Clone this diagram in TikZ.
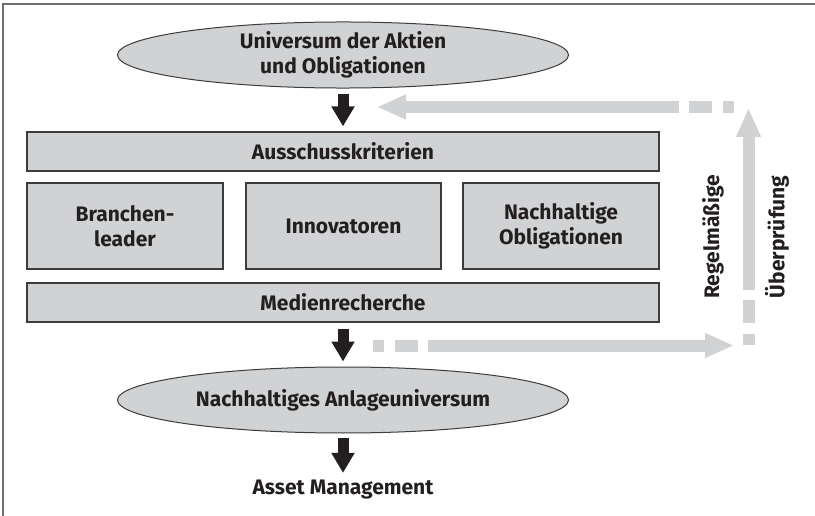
\documentclass[tikz,border=0pt]{standalone}
\usepackage{fontspec}
\setmainfont{Fira Sans}
\usepackage{tikz}
\usetikzlibrary{shapes.geometric, arrows.meta, positioning}
\definecolor{boxgray}{RGB}{209,210,212}
\definecolor{edgegray}{RGB}{60,60,60}
\definecolor{loopgray}{RGB}{209,210,212}
\definecolor{framegray}{RGB}{110,110,110}
\definecolor{arrowblack}{RGB}{35,31,32}

\begin{document}
\begin{tikzpicture}[
    x=1pt, y=-1pt,
    label/.style={font=\fontsize{21}{25}\selectfont\bfseries, text=arrowblack, align=center},
    universe/.style={label, ellipse, draw=edgegray, line width=1pt, fill=boxgray, minimum width=451pt, minimum height=66pt, inner sep=0pt},
    stage/.style={label, rectangle, draw=edgegray, line width=1.2pt, fill=boxgray, inner sep=0pt},
    flow/.style={-{Triangle[length=20pt, width=22pt]}, line width=11pt, arrowblack},
    review/.style={-{Triangle[length=29pt, width=23pt]}, line width=12pt, loopgray, dash pattern=on 11pt off 11pt on 23pt off 10pt on 2000pt off 1pt}
]
    \useasboundingbox (0,0) rectangle (815,516);
    \draw[framegray, line width=1.5pt] (3,516) -- (3,4) -- (815,4);

    % Stages
    \node[universe] (aktien) at (343,55) {Universum der Aktien\\und Obligationen};
    \node[stage, minimum width=632pt, minimum height=39pt] (ausschluss) at (343,151.5) {Ausschusskriterien};
    \node[stage, minimum width=196pt, minimum height=86pt] (leader) at (125,226) {Branchen-\\leader};
    \node[stage, minimum width=195pt, minimum height=86pt] (innov) at (343.5,226) {Innovatoren};
    \node[stage, minimum width=196pt, minimum height=86pt] (obli) at (561,226) {Nachhaltige\\Obligationen};
    \node[stage, minimum width=632pt, minimum height=39pt] (medien) at (343,302.5) {Medienrecherche};
    \node[universe] (anlage) at (343,400) {Nachhaltiges Anlageuniversum};
    \node[label] (asset) at (343,490) {Asset Management};

    % Review loop
    \node[label, rotate=90] (regel) at (713,237) {Regelmäßige};
    \node[label, rotate=90] (pruef) at (777,237) {Überprüfung};
    \coordinate (loopA) at (373,345.5);
    \coordinate (loopB) at (734,345.5);
    \coordinate (loopC) at (748.5,345);
    \coordinate (loopD) at (748.5,108);
    \coordinate (loopE) at (734,107);
    \coordinate (loopF) at (377,107);
    \draw[review] (loopA) -- (loopB);
    \draw[review] (loopC) -- (loopD);
    \draw[review] (loopE) -- (loopF);

    % Flow
    \draw[flow, shorten <=5pt, shorten >=5pt] (aktien) -- (ausschluss);
    \draw[flow, shorten <=6pt, shorten >=5pt] (medien) -- (anlage);
    \draw[flow, shorten <=4pt, shorten >=4pt] (anlage) -- (asset);
\end{tikzpicture}
\end{document}
